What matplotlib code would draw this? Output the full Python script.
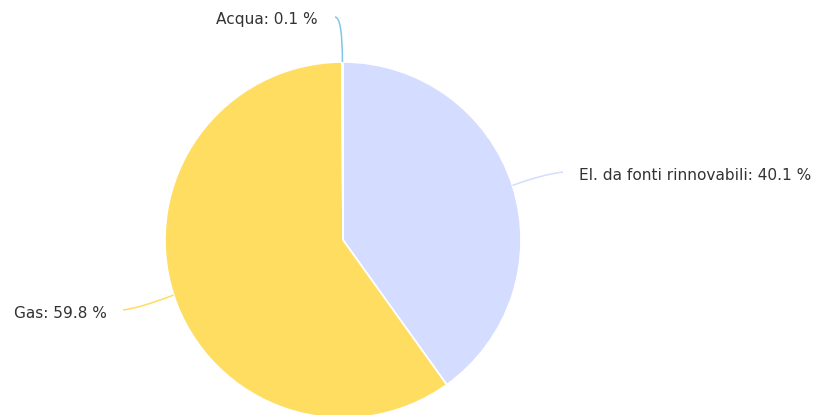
import numpy as np
import matplotlib.pyplot as plt
from matplotlib.path import Path
from matplotlib.patches import PathPatch

labels = ['El. da fonti rinnovabili', 'Gas', 'Acqua']
values = [40.1, 59.8, 0.1]
colors = ['#d4ddff', '#ffdd60', '#7cc7e8']

W, H = 821, 415
cx, cy, R = 343, 240, 178   # pie centre / radius in pixels (y from top)

fig = plt.figure(figsize=(W / 100, H / 100), dpi=100)
ax = fig.add_axes([0, 0, 1, 1])

ax.pie(values, colors=colors, startangle=90, counterclock=False,
       center=(cx, H - cy), radius=R,
       wedgeprops=dict(edgecolor='white', linewidth=1.2))
ax.set_xlim(0, W)
ax.set_ylim(0, H)
ax.set_aspect('equal')
ax.axis('off')

def curve(p0, p1, p2, col):
    # quadratic connector, points given as (x, y from top)
    pts = [(x, H - y) for x, y in (p0, p1, p2)]
    path = Path(pts, [Path.MOVETO, Path.CURVE3, Path.CURVE3])
    ax.add_patch(PathPatch(path, fc='none', ec=col, lw=1.1))

# label placement
cum = np.cumsum([0] + values[:-1])
mids = [(c + v / 2) / 100 * 360 for c, v in zip(cum, values)]
edge = [(cx + R * np.sin(np.radians(a)), cy - R * np.cos(np.radians(a))) for a in mids]

txt = dict(fontsize=11.1, color='#333333', va='center', family='DejaVu Sans')

# El. da fonti rinnovabili
x0, y0 = edge[0]
curve((x0, y0), (540, 175), (563, 172), colors[0])
ax.text(579, H - 176, '%s: %.1f %%' % (labels[0], values[0]), ha='left', **txt)

# Gas
x0, y0 = edge[1]
curve((x0, y0), (140, 308), (123, 310), colors[1])
ax.text(14, H - 313, '%s: %.1f %%' % (labels[1], values[1]), ha='left', **txt)

# Acqua
x0, y0 = edge[2]
curve((x0, y0), (x0, 17), (335, 17), colors[2])
ax.text(318, H - 20, '%s: %.1f %%' % (labels[2], values[2]), ha='right', **txt)

fig.savefig('out.png', dpi=100, facecolor='white')
